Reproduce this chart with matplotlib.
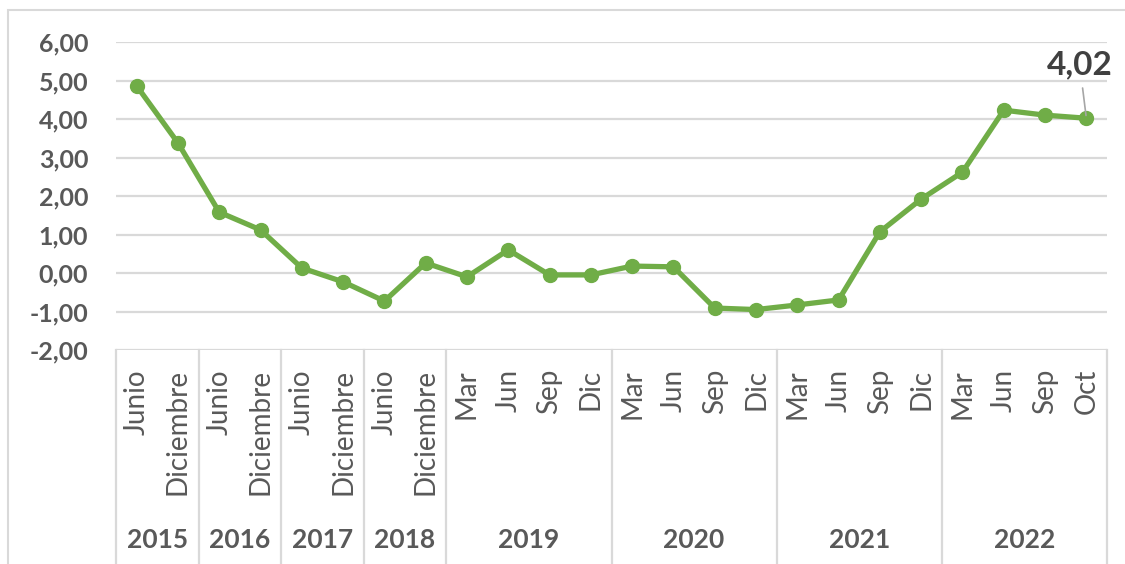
import matplotlib.pyplot as plt
from matplotlib.patches import Rectangle
from matplotlib.transforms import blended_transform_factory

# data
years = ["2015", "2016", "2017", "2018", "2019", "2020", "2021", "2022"]
months = [
    ["Junio", "Diciembre"],
    ["Junio", "Diciembre"],
    ["Junio", "Diciembre"],
    ["Junio", "Diciembre"],
    ["Mar", "Jun", "Sep", "Dic"],
    ["Mar", "Jun", "Sep", "Dic"],
    ["Mar", "Jun", "Sep", "Dic"],
    ["Mar", "Jun", "Sep", "Oct"],
]
values = [4.86, 3.38, 1.58, 1.12, 0.13, -0.23, -0.73, 0.26,
          -0.10, 0.60, -0.05, -0.05,
          0.18, 0.16, -0.91, -0.95,
          -0.83, -0.70, 1.07, 1.92,
          2.62, 4.23, 4.10, 4.02]
yticks = [-2, -1, 0, 1, 2, 3, 4, 5, 6]

plt.rcParams['font.family'] = ['Lato', 'DejaVu Sans']

fig = plt.figure(figsize=(11.25, 5.64), dpi=100)
ax = fig.add_axes([116/1125, 1 - 350/564, (1107-116)/1125, 308/564])

# chart frame like excel
fig.patches.append(Rectangle((8/1125, -0.2), 1.2, 0.2 + (564-10)/564, transform=fig.transFigure,
                             fill=False, edgecolor='#D9D9D9', linewidth=1.5))

x = list(range(len(values)))
ax.plot(x, values, color='#70AD47', linewidth=3.8, marker='o', markersize=10, zorder=3)

ax.set_xlim(-0.5, len(values) - 0.5)
ax.set_ylim(-2, 6)
ax.set_yticks(yticks)
ax.set_yticklabels([f"{v:.2f}".replace('.', ',') for v in yticks],
                   fontsize=18, fontweight='bold', color='#595959')
ax.tick_params(axis='y', length=0, pad=20)
ax.set_xticks([])
ax.grid(axis='y', color='#D9D9D9', linewidth=1.6)
for s in ax.spines.values():
    s.set_visible(False)

# multi level category axis
tr = blended_transform_factory(ax.transData, ax.transAxes)
pos = 0
bounds = [-0.5]
for yr, ms in zip(years, months):
    for m in ms:
        ax.text(pos, -0.062, m, rotation=90, ha='center', va='top', fontsize=20,
                color='#595959', transform=tr)
        pos += 1
    ax.text(pos - len(ms)/2 - 0.5, -0.617, yr, ha='center', va='center', fontsize=19,
            fontweight='bold', color='#595959', transform=tr)
    bounds.append(pos - 0.5)
for b in bounds:
    ax.plot([b, b], [0, -0.72], color='#D9D9D9', linewidth=1.6, transform=tr, clip_on=False)

# label for last value
ax.annotate(f"{values[-1]:.2f}".replace('.', ','), xy=(x[-1], values[-1]), xytext=(22.84, 5.02),
            ha='center', va='bottom', fontsize=24, fontweight='bold', color='#404040',
            arrowprops=dict(arrowstyle='-', color='#A6A6A6', linewidth=1.2, shrinkA=4, shrinkB=2))

fig.savefig('out.png', dpi=100)
